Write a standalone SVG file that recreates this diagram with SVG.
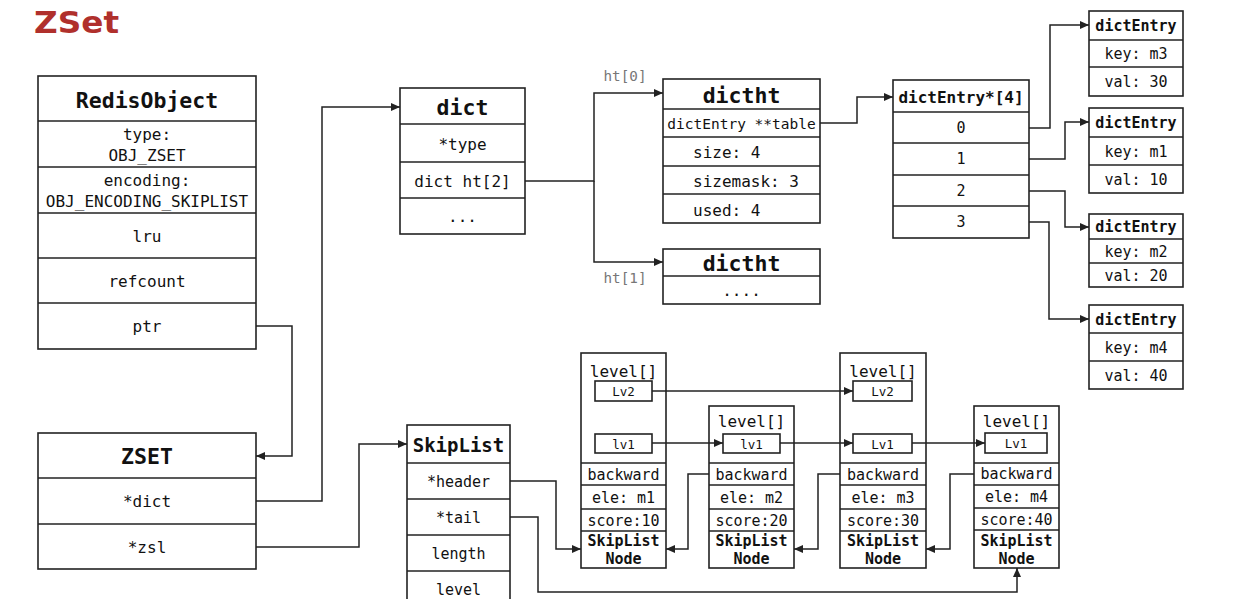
<svg xmlns="http://www.w3.org/2000/svg" width="1260" height="599" viewBox="0 0 1260 599">
<style>
  .box { fill: #fff; stroke: #222; stroke-width: 1.6; }
  .sep { stroke: #222; stroke-width: 1.4; }
  .t { font-family: "DejaVu Sans Mono", "Liberation Mono", monospace; fill: #111; text-anchor: middle; dominant-baseline: central; font-size: 16px; }
  .tl { text-anchor: start; }
  .b { font-weight: bold; }
  .h { font-size: 21.5px; font-weight: bold; }
  .s14 { font-size: 14.5px; }
  .s15 { font-size: 15px; }
  .s12 { font-size: 12.5px; }
  .gray { fill: #777; font-size: 14.3px; }
  .conn { fill: none; stroke: #222; stroke-width: 1.5; }
  .title { font-family: "DejaVu Sans", "Open Sans", sans-serif; font-weight: bold; font-size: 30px; fill: #b0302c; }
</style>
<defs>
  <marker id="arr" markerUnits="userSpaceOnUse" markerWidth="10" markerHeight="10" refX="9" refY="4" orient="auto">
    <path d="M0,0 L9,4 L0,8 z" fill="#222"/>
  </marker>
</defs>
<rect width="1260" height="599" fill="#fff"/>
<text class="title" x="34" y="33" textLength="85" lengthAdjust="spacingAndGlyphs">ZSet</text>

<g id="redisobject">
  <rect class="box" x="38" y="76" width="218" height="273"/>
  <line class="sep" x1="38" y1="121" x2="256" y2="121"/>
  <line class="sep" x1="38" y1="167" x2="256" y2="167"/>
  <line class="sep" x1="38" y1="213" x2="256" y2="213"/>
  <line class="sep" x1="38" y1="258" x2="256" y2="258"/>
  <line class="sep" x1="38" y1="303" x2="256" y2="303"/>
  <text class="t h" x="147" y="100">RedisObject</text>
  <text class="t" x="147" y="134">type:</text>
  <text class="t" x="147" y="155">OBJ_ZSET</text>
  <text class="t" x="147" y="180">encoding:</text>
  <text class="t" x="147" y="201">OBJ_ENCODING_SKIPLIST</text>
  <text class="t" x="147" y="236">lru</text>
  <text class="t" x="147" y="281">refcount</text>
  <text class="t" x="147" y="326">ptr</text>
</g>

<g id="zset">
  <rect class="box" x="38" y="433" width="218" height="136"/>
  <line class="sep" x1="38" y1="478" x2="256" y2="478"/>
  <line class="sep" x1="38" y1="524" x2="256" y2="524"/>
  <text class="t h" x="147" y="456">ZSET</text>
  <text class="t" x="147" y="501">*dict</text>
  <text class="t" x="147" y="547">*zsl</text>
</g>

<g id="dict">
  <rect class="box" x="400" y="88" width="125" height="146"/>
  <line class="sep" x1="400" y1="124" x2="525" y2="124"/>
  <line class="sep" x1="400" y1="162" x2="525" y2="162"/>
  <line class="sep" x1="400" y1="198" x2="525" y2="198"/>
  <text class="t h" x="462.5" y="107">dict</text>
  <text class="t" x="462.5" y="144">*type</text>
  <text class="t" x="462.5" y="181">dict ht[2]</text>
  <text class="t" x="462.5" y="216">...</text>
</g>

<g id="dictht0">
  <rect class="box" x="663" y="79" width="157" height="144"/>
  <line class="sep" x1="663" y1="109" x2="820" y2="109"/>
  <line class="sep" x1="663" y1="137" x2="820" y2="137"/>
  <line class="sep" x1="663" y1="166" x2="820" y2="166"/>
  <line class="sep" x1="663" y1="194" x2="820" y2="194"/>
  <text class="t h" x="741.5" y="95">dictht</text>
  <text class="t s14" x="741.5" y="124">dictEntry **table</text>
  <text class="t tl" x="693" y="152">size: 4</text>
  <text class="t tl" x="693" y="181">sizemask: 3</text>
  <text class="t tl" x="693" y="210">used: 4</text>
</g>

<g id="dictht1">
  <rect class="box" x="663" y="249" width="157" height="55"/>
  <line class="sep" x1="663" y1="276" x2="820" y2="276"/>
  <text class="t h" x="741.5" y="263">dictht</text>
  <text class="t" x="741.5" y="290">....</text>
</g>

<g id="dictentry-array">
  <rect class="box" x="893" y="80" width="136" height="158"/>
  <line class="sep" x1="893" y1="112" x2="1029" y2="112"/>
  <line class="sep" x1="893" y1="143" x2="1029" y2="143"/>
  <line class="sep" x1="893" y1="175" x2="1029" y2="175"/>
  <line class="sep" x1="893" y1="206" x2="1029" y2="206"/>
  <text class="t b" x="961" y="97">dictEntry*[4]</text>
  <text class="t s15" x="961" y="128">0</text>
  <text class="t s15" x="961" y="159">1</text>
  <text class="t s15" x="961" y="191">2</text>
  <text class="t s15" x="961" y="222">3</text>
</g>

<g id="entry-m3">
  <rect class="box" x="1089" y="11" width="94" height="85"/>
  <line class="sep" x1="1089" y1="40" x2="1183" y2="40"/>
  <line class="sep" x1="1089" y1="67" x2="1183" y2="67"/>
  <text class="t s15 b" x="1136" y="26">dictEntry</text>
  <text class="t s15" x="1136" y="54">key: m3</text>
  <text class="t s15" x="1136" y="82">val: 30</text>
</g>
<g id="entry-m1">
  <rect class="box" x="1089" y="108" width="94" height="85"/>
  <line class="sep" x1="1089" y1="137" x2="1183" y2="137"/>
  <line class="sep" x1="1089" y1="165" x2="1183" y2="165"/>
  <text class="t s15 b" x="1136" y="123">dictEntry</text>
  <text class="t s15" x="1136" y="152">key: m1</text>
  <text class="t s15" x="1136" y="180">val: 10</text>
</g>
<g id="entry-m2">
  <rect class="box" x="1089" y="214" width="94" height="73"/>
  <line class="sep" x1="1089" y1="239" x2="1183" y2="239"/>
  <line class="sep" x1="1089" y1="263" x2="1183" y2="263"/>
  <text class="t s15 b" x="1136" y="227">dictEntry</text>
  <text class="t s15" x="1136" y="252">key: m2</text>
  <text class="t s15" x="1136" y="276">val: 20</text>
</g>
<g id="entry-m4">
  <rect class="box" x="1089" y="305" width="94" height="84"/>
  <line class="sep" x1="1089" y1="333" x2="1183" y2="333"/>
  <line class="sep" x1="1089" y1="361" x2="1183" y2="361"/>
  <text class="t s15 b" x="1136" y="320">dictEntry</text>
  <text class="t s15" x="1136" y="348">key: m4</text>
  <text class="t s15" x="1136" y="376">val: 40</text>
</g>

<g id="skiplist">
  <rect class="box" x="407" y="425" width="103" height="190"/>
  <line class="sep" x1="407" y1="463" x2="510" y2="463"/>
  <line class="sep" x1="407" y1="499" x2="510" y2="499"/>
  <line class="sep" x1="407" y1="535" x2="510" y2="535"/>
  <line class="sep" x1="407" y1="571" x2="510" y2="571"/>
  <text class="t b" style="font-size:19px" x="458.5" y="445">SkipList</text>
  <text class="t s15" x="458.5" y="482">*header</text>
  <text class="t s15" x="458.5" y="518">*tail</text>
  <text class="t s15" x="458.5" y="554">length</text>
  <text class="t s15" x="458.5" y="590">level</text>
</g>

<g id="node-m1">
  <rect class="box" x="581" y="353" width="85" height="215"/>
  <line class="sep" x1="581" y1="463" x2="666" y2="463"/>
  <line class="sep" x1="581" y1="485" x2="666" y2="485"/>
  <line class="sep" x1="581" y1="509" x2="666" y2="509"/>
  <line class="sep" x1="581" y1="531" x2="666" y2="531"/>
  <text class="t" x="623.5" y="371">level[]</text>
  <rect class="box" x="595" y="381" width="57" height="20"/>
  <text class="t s12" x="623.5" y="391.5">Lv2</text>
  <rect class="box" x="595" y="434" width="57" height="19"/>
  <text class="t s12" x="623.5" y="444">lv1</text>
  <text class="t s15" x="623.5" y="474.5">backward</text>
  <text class="t s15" x="623.5" y="497.5">ele: m1</text>
  <text class="t s15" x="623.5" y="520.5">score:10</text>
  <text class="t s15 b" x="623.5" y="541">SkipList</text>
  <text class="t s15 b" x="623.5" y="559">Node</text>
</g>

<g id="node-m2">
  <rect class="box" x="709" y="406" width="85" height="162"/>
  <line class="sep" x1="709" y1="463" x2="794" y2="463"/>
  <line class="sep" x1="709" y1="485" x2="794" y2="485"/>
  <line class="sep" x1="709" y1="509" x2="794" y2="509"/>
  <line class="sep" x1="709" y1="531" x2="794" y2="531"/>
  <text class="t" x="751.5" y="421">level[]</text>
  <rect class="box" x="723" y="434" width="57" height="19"/>
  <text class="t s12" x="751.5" y="444">lv1</text>
  <text class="t s15" x="751.5" y="474.5">backward</text>
  <text class="t s15" x="751.5" y="497.5">ele: m2</text>
  <text class="t s15" x="751.5" y="520.5">score:20</text>
  <text class="t s15 b" x="751.5" y="541">SkipList</text>
  <text class="t s15 b" x="751.5" y="559">Node</text>
</g>

<g id="node-m3">
  <rect class="box" x="840" y="353" width="86" height="215"/>
  <line class="sep" x1="840" y1="463" x2="926" y2="463"/>
  <line class="sep" x1="840" y1="485" x2="926" y2="485"/>
  <line class="sep" x1="840" y1="509" x2="926" y2="509"/>
  <line class="sep" x1="840" y1="531" x2="926" y2="531"/>
  <text class="t" x="883" y="371">level[]</text>
  <rect class="box" x="853" y="381" width="59" height="20"/>
  <text class="t s12" x="882.5" y="391.5">Lv2</text>
  <rect class="box" x="853" y="434" width="59" height="19"/>
  <text class="t s12" x="882.5" y="444">Lv1</text>
  <text class="t s15" x="883" y="474.5">backward</text>
  <text class="t s15" x="883" y="497.5">ele: m3</text>
  <text class="t s15" x="883" y="520.5">score:30</text>
  <text class="t s15 b" x="883" y="541">SkipList</text>
  <text class="t s15 b" x="883" y="559">Node</text>
</g>

<g id="node-m4">
  <rect class="box" x="974" y="406" width="85" height="162"/>
  <line class="sep" x1="974" y1="463" x2="1059" y2="463"/>
  <line class="sep" x1="974" y1="485" x2="1059" y2="485"/>
  <line class="sep" x1="974" y1="508" x2="1059" y2="508"/>
  <line class="sep" x1="974" y1="530" x2="1059" y2="530"/>
  <text class="t" x="1016.5" y="421">level[]</text>
  <rect class="box" x="985" y="433" width="62" height="20"/>
  <text class="t s12" x="1016" y="443.5">Lv1</text>
  <text class="t s15" x="1016.5" y="474">backward</text>
  <text class="t s15" x="1016.5" y="497">ele: m4</text>
  <text class="t s15" x="1016.5" y="519.5">score:40</text>
  <text class="t s15 b" x="1016.5" y="541">SkipList</text>
  <text class="t s15 b" x="1016.5" y="559">Node</text>
</g>

<g id="labels">
  <text class="t gray" x="625" y="76">ht[0]</text>
  <text class="t gray" x="625" y="278">ht[1]</text>
</g>

<g id="connectors">
  <path class="conn" d="M256,326 H292 V456 H256" marker-end="url(#arr)"/>
  <path class="conn" d="M256,501 H322 V107 H400" marker-end="url(#arr)"/>
  <path class="conn" d="M256,547 H359 V444 H407" marker-end="url(#arr)"/>
  <path class="conn" d="M525,181 H594 V93 H663" marker-end="url(#arr)"/>
  <path class="conn" d="M594,181 V262 H663" marker-end="url(#arr)"/>
  <path class="conn" d="M820,123 H857 V97 H893" marker-end="url(#arr)"/>
  <path class="conn" d="M1029,128 H1050 V25 H1089" marker-end="url(#arr)"/>
  <path class="conn" d="M1029,159 H1065 V122 H1089" marker-end="url(#arr)"/>
  <path class="conn" d="M1029,191 H1065 V227 H1089" marker-end="url(#arr)"/>
  <path class="conn" d="M1029,222 H1049 V319 H1089" marker-end="url(#arr)"/>
  <path class="conn" d="M652,391 H853" marker-end="url(#arr)"/>
  <path class="conn" d="M652,443 H723" marker-end="url(#arr)"/>
  <path class="conn" d="M780,443 H853" marker-end="url(#arr)"/>
  <path class="conn" d="M912,443 H985" marker-end="url(#arr)"/>
  <path class="conn" d="M510,481 H556 V549 H581" marker-end="url(#arr)"/>
  <path class="conn" d="M510,517 H538 V592 H1017 V568" marker-end="url(#arr)"/>
  <path class="conn" d="M709,474 H688 V549 H666" marker-end="url(#arr)"/>
  <path class="conn" d="M840,474 H818 V549 H794" marker-end="url(#arr)"/>
  <path class="conn" d="M974,474 H950 V549 H926" marker-end="url(#arr)"/>
</g>
</svg>
